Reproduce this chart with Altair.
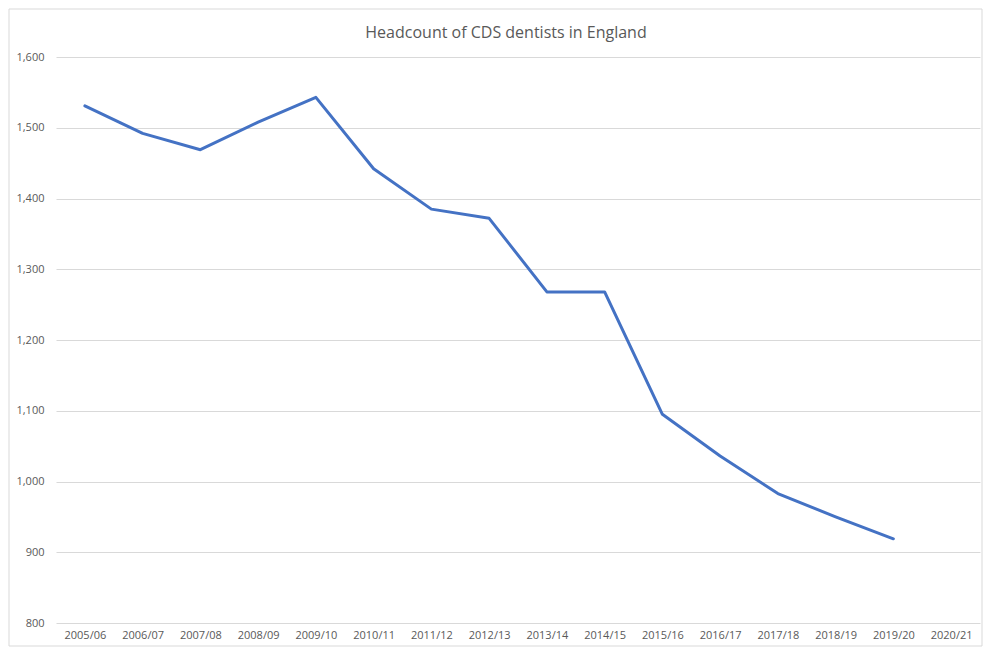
import altair as alt
import pandas as pd

years = ["2005/06", "2006/07", "2007/08", "2008/09", "2009/10", "2010/11", "2011/12",
         "2012/13", "2013/14", "2014/15", "2015/16", "2016/17", "2017/18", "2018/19",
         "2019/20", "2020/21"]
headcount = [1531, 1492, 1469, 1508, 1543, 1442, 1385, 1372, 1268, 1268, 1095, 1036,
             983, 950, 919]

df = pd.DataFrame({"year": years[:len(headcount)], "count": headcount})

W, H = 924, 566
FONT = "Open Sans"
GREY = "#595959"

x = alt.X("year:N", scale=alt.Scale(type="point", domain=years, padding=0.5),
          axis=alt.Axis(title=None, labelAngle=0, ticks=False, domain=False, grid=False,
                        labelColor=GREY, labelFont=FONT, labelFontSize=11,
                        labelPadding=6))
y = alt.Y("count:Q", scale=alt.Scale(domain=[800, 1600], nice=False, zero=False),
          axis=alt.Axis(title=None, values=[800, 900, 1000, 1100, 1200, 1300, 1400, 1500, 1600],
                        format=",.0f", ticks=False, domain=False, gridColor="#d9d9d9",
                        gridWidth=1, labelColor=GREY, labelFont=FONT, labelFontSize=11,
                        labelPadding=12))

line = alt.Chart(df).mark_line(color="#4472C4", strokeWidth=3, strokeCap="round",
                                strokeJoin="round").encode(x=x, y=y)

border = alt.Chart(pd.DataFrame({"a": [0]})).mark_rect(
    fill=None, stroke="#d9d9d9", strokeWidth=1, clip=False
).encode(x=alt.value(-47), x2=alt.value(W + 2), y=alt.value(-48), y2=alt.value(H + 23))

title = alt.Chart(pd.DataFrame({"t": ["Headcount of CDS dentists in England"]})).mark_text(
    font=FONT, fontSize=16, color=GREY, align="center", baseline="middle", clip=False
).encode(text="t:N", x=alt.value(W / 2 - 12), y=alt.value(-24))

chart = alt.layer(border, line, title).properties(
    width=W, height=H,
    autosize=alt.AutoSizeParams(type="none"),
    padding={"left": 48, "top": 49, "right": 3, "bottom": 25},
    background="white",
).configure_view(stroke=None)

chart.save("out.html", embed_options={"renderer": "svg", "actions": False})
